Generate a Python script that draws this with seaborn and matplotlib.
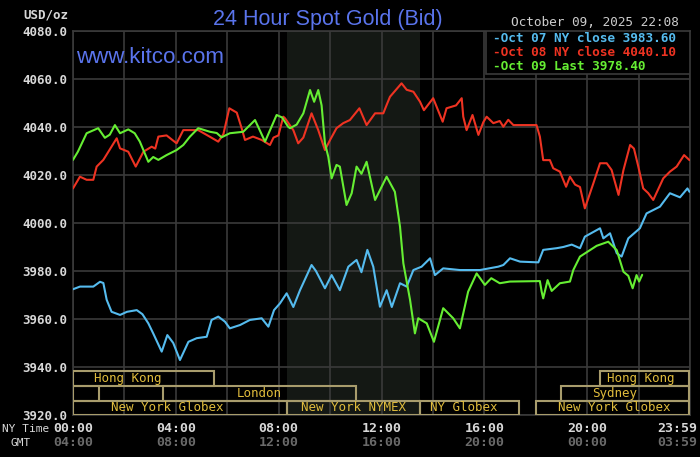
import pandas as pd
import matplotlib.pyplot as plt
import matplotlib.transforms as mtransforms
from matplotlib.patches import Rectangle
import seaborn as sns

# Digitised prices (hour of NY day, USD/oz)
oct07_hours = [0.00, 0.27, 0.79, 1.05, 1.18, 1.31, 1.50, 1.83, 2.10, 2.48, 2.70, 2.93, 3.12, 3.45,
               3.67, 3.90, 4.16, 4.49, 4.81, 5.20, 5.39, 5.65, 5.91, 6.10, 6.50, 6.88, 7.34, 7.60,
               7.82, 8.05, 8.31, 8.57, 8.83, 9.28, 9.45, 9.80, 10.06, 10.38, 10.71, 11.03, 11.22,
               11.45, 11.68, 11.94, 12.20, 12.40, 12.72, 12.98, 13.24, 13.56, 13.89, 14.08, 14.40,
               15.05, 15.83, 16.54, 16.74, 17.00, 17.39, 18.10, 18.29, 18.81, 19.07, 19.40, 19.72,
               19.91, 20.50, 20.63, 20.89, 21.15, 21.34, 21.60, 22.05, 22.31, 22.83, 23.22, 23.61,
               23.90, 23.98]
oct07_price = [3972.4, 3973.5, 3973.5, 3975.5, 3975.0, 3968.0, 3963.0, 3961.7, 3963.0, 3963.7,
               3962.0, 3958.2, 3954.0, 3946.4, 3953.3, 3950.0, 3942.9, 3950.5, 3952.0, 3952.6,
               3959.6, 3961.0, 3958.9, 3956.1, 3957.5, 3959.6, 3960.3, 3956.8, 3963.7, 3966.5,
               3970.7, 3965.0, 3972.0, 3982.5, 3980.0, 3972.8, 3978.3, 3972.0, 3981.8, 3984.6,
               3979.5, 3988.8, 3981.8, 3965.1, 3972.0, 3965.0, 3974.9, 3973.5, 3980.4, 3981.8,
               3985.3, 3978.3, 3981.1, 3980.4, 3980.4, 3981.8, 3982.5, 3985.3, 3983.9, 3983.6,
               3988.8, 3989.5, 3990.0, 3991.0, 3989.5, 3994.3, 3997.8, 3993.6, 3995.7, 3987.4,
               3986.0, 3993.6, 3997.8, 4004.0, 4006.8, 4012.4, 4010.7, 4014.4, 4013.0]

oct08_hours = [0.00, 0.27, 0.53, 0.79, 0.92, 1.18, 1.70, 1.83, 2.15, 2.44, 2.74, 3.06, 3.20, 3.32,
               3.64, 4.03, 4.29, 4.87, 5.20, 5.65, 5.85, 6.08, 6.37, 6.56, 6.69, 7.00, 7.34, 7.66,
               7.80, 7.99, 8.18, 8.25, 8.57, 8.76, 8.96, 9.28, 9.54, 9.80, 10.00, 10.25, 10.51,
               10.77, 11.14, 11.42, 11.75, 12.07, 12.20, 12.33, 12.78, 12.98, 13.24, 13.50, 13.65,
               14.01, 14.38, 14.53, 14.90, 15.12, 15.18, 15.31, 15.54, 15.77, 15.96, 16.09, 16.35,
               16.60, 16.74, 16.93, 17.13, 18.03, 18.16, 18.29, 18.55, 18.68, 18.94, 19.18, 19.33,
               19.53, 19.72, 19.91, 20.24, 20.50, 20.76, 20.95, 21.22, 21.41, 21.67, 21.82, 21.99,
               22.18, 22.37, 22.57, 22.96, 23.22, 23.48, 23.77, 23.98]
oct08_price = [4014.4, 4019.3, 4018.0, 4018.0, 4023.5, 4026.3, 4035.3, 4031.1, 4029.7, 4023.5,
               4029.7, 4031.8, 4031.0, 4036.0, 4036.5, 4033.2, 4038.7, 4038.7, 4036.7, 4033.9,
               4037.0, 4047.8, 4046.0, 4039.5, 4034.6, 4036.0, 4034.6, 4032.5, 4035.6, 4036.5,
               4044.3, 4043.6, 4038.7, 4033.2, 4035.6, 4045.7, 4038.7, 4030.4, 4034.6, 4039.5,
               4041.6, 4042.9, 4047.8, 4040.8, 4045.7, 4045.7, 4049.2, 4052.6, 4058.2, 4055.5,
               4054.7, 4050.5, 4047.0, 4052.0, 4042.2, 4047.8, 4049.0, 4052.0, 4044.3, 4038.7,
               4045.0, 4036.7, 4042.0, 4044.3, 4041.6, 4042.5, 4040.1, 4043.0, 4040.8, 4040.8,
               4036.0, 4026.2, 4026.2, 4022.8, 4021.4, 4015.1, 4019.3, 4016.0, 4015.0, 4006.1,
               4016.5, 4024.9, 4024.9, 4022.1, 4011.7, 4022.0, 4032.5, 4031.0, 4023.5, 4014.4,
               4012.5, 4009.6, 4018.6, 4021.4, 4023.5, 4028.3, 4026.2]

oct09_hours = [0.00, 0.19, 0.53, 0.98, 1.24, 1.43, 1.63, 1.83, 2.15, 2.40, 2.60, 2.93, 3.12, 3.32,
               3.64, 4.03, 4.29, 4.55, 4.87, 5.33, 5.59, 5.78, 6.10, 6.62, 7.08, 7.47, 7.92, 8.13,
               8.37, 8.44, 8.70, 8.96, 9.22, 9.38, 9.54, 9.67, 9.80, 9.93, 10.06, 10.25, 10.38,
               10.64, 10.84, 11.03, 11.22, 11.42, 11.75, 12.20, 12.52, 12.72, 12.85, 13.11, 13.30,
               13.43, 13.76, 14.04, 14.40, 14.79, 15.05, 15.37, 15.70, 16.02, 16.27, 16.60, 16.99,
               18.16, 18.23, 18.29, 18.46, 18.62, 18.94, 19.33, 19.46, 19.72, 20.11, 20.37, 20.82,
               21.15, 21.41, 21.60, 21.77, 21.92, 22.02, 22.14]
oct09_price = [4026.3, 4029.7, 4037.4, 4039.5, 4035.5, 4036.8, 4040.8, 4037.4, 4039.0, 4037.4,
               4033.9, 4025.5, 4027.5, 4026.3, 4028.3, 4030.4, 4032.5, 4036.0, 4039.5, 4038.0,
               4037.5, 4035.7, 4037.4, 4038.0, 4042.9, 4033.9, 4045.0, 4044.0, 4040.1, 4039.5,
               4041.0, 4045.7, 4055.4, 4050.5, 4055.4, 4049.0, 4033.2, 4027.6, 4018.6, 4024.2,
               4023.5, 4007.5, 4012.4, 4023.5, 4020.5, 4025.5, 4009.6, 4019.3, 4013.0, 3998.5,
               3983.2, 3968.0, 3954.0, 3960.3, 3958.2, 3950.5, 3964.5, 3960.3, 3956.1, 3971.4,
               3979.0, 3974.2, 3977.0, 3974.9, 3975.6, 3975.8, 3971.4, 3968.6, 3976.2, 3971.7,
               3974.9, 3975.6, 3980.4, 3986.0, 3988.7, 3990.5, 3992.2, 3988.7, 3979.7, 3978.0,
               3972.8, 3978.3, 3975.6, 3978.4]

series_names = ["Oct 07", "Oct 08", "Oct 09"]
legend_lines = ["-Oct 07 NY close 3983.60", "-Oct 08 NY close 4040.10", "-Oct 09 Last 3978.40"]
series_colors = ["#55bbee", "#ee3322", "#66ee33"]

y_ticks = [3920, 3940, 3960, 3980, 4000, 4020, 4040, 4060, 4080]
ny_labels = ["00:00", "04:00", "08:00", "12:00", "16:00", "20:00", "23:59"]
gmt_labels = ["04:00", "08:00", "12:00", "16:00", "20:00", "00:00", "03:59"]
label_hours = [0, 4, 8, 12, 16, 20, 23.98]

# Trading sessions: name, start, end, row (0 = top), label hour
session_names = ["Hong Kong", "", "London", "New York Globex", "New York NYMEX", "NY Globex",
                 "New York Globex", "Sydney", "Hong Kong"]
session_start = [0.0, 0.0, 3.5, 0.0, 8.33, 13.5, 18.0, 19.0, 20.5]
session_end = [5.5, 1.0, 11.0, 8.33, 13.5, 17.33, 23.98, 23.98, 23.98]
session_row = [0, 1, 1, 2, 2, 2, 2, 1, 0]
session_label_at = [2.14, 0.5, 7.25, 3.66, 10.9, 15.2, 21.05, 21.05, 22.1]
nymex_span = (8.33, 13.5)

frames = []
for name, hrs, prices in zip(series_names, [oct07_hours, oct08_hours, oct09_hours],
                             [oct07_price, oct08_price, oct09_price]):
    frames.append(pd.DataFrame({"hour": hrs, "price": prices, "day": name}))
df = pd.concat(frames, ignore_index=True)

sns.set_style("dark", {"axes.facecolor": "#000000", "figure.facecolor": "#000000"})
mono = "DejaVu Sans Mono"
plt.rcParams["font.family"] = ["DejaVu Sans"]

fig = plt.figure(figsize=(7.0, 4.57), dpi=100)
ax = fig.add_axes([73 / 700, 42 / 457, 617 / 700, 384 / 457])
ax.set_facecolor("#000000")

ax.axvspan(*nymex_span, color="#141814", zorder=0.1, lw=0)

sns.lineplot(data=df, x="hour", y="price", hue="day", palette=series_colors,
             estimator=None, sort=False, linewidth=1.5, legend=False, ax=ax, zorder=3)

ax.set_xlim(0, 24)
ax.set_ylim(3920, 4080)
ax.set_xticks(range(0, 25, 2))
ax.set_xticklabels([])
ax.set_yticks(y_ticks)
ax.set_yticklabels([f"{v:.1f}" for v in y_ticks], fontfamily=mono, fontweight="bold",
                   fontsize=9, color="#d8d8d8")
ax.tick_params(length=0, pad=4)
ax.set_xlabel("")
ax.set_ylabel("")
ax.grid(True, color="#3a3a3a", linewidth=1.2)
ax.set_axisbelow(True)
for s in ax.spines.values():
    s.set_color("#3a3a3a")
    s.set_linewidth(1.2)
    s.set_visible(True)

# session boxes
row_h = 6.1
row_top = 3938.2
gold = "#e0bc3c"
for name, a, b, r, lx in zip(session_names, session_start, session_end, session_row,
                             session_label_at):
    y0 = row_top - (r + 1) * row_h
    ax.add_patch(Rectangle((a, y0), b - a, row_h, fill=False, edgecolor="#a89c6c",
                           linewidth=1.5, zorder=4))
    if name:
        ax.text(lx, y0 + row_h / 2, name, ha="center", va="center", fontfamily=mono,
                fontsize=9, color=gold, zorder=5)

# x labels below the axis
xt = mtransforms.blended_transform_factory(ax.transData, fig.transFigure)
for h, ny, gmt in zip(label_hours, ny_labels, gmt_labels):
    ha = "right" if h > 23 else "center"
    hx = 24.28 if h > 23 else h
    ax.text(hx, 1 - 428 / 457, ny, transform=xt, ha=ha, va="center", fontfamily=mono,
            fontweight="bold", fontsize=9.5, color="#d8d8d8")
    ax.text(hx, 1 - 443 / 457, gmt, transform=xt, ha=ha, va="center", fontfamily=mono,
            fontweight="bold", fontsize=9.5, color="#6a6a6a")
fig.text(2 / 700, 1 - 429 / 457, "NY Time", ha="left", va="center", fontfamily=mono,
         fontsize=8, color="#d8d8d8")
fig.text(21 / 700, 1 - 443 / 457, "GMT", ha="center", va="center", fontfamily=mono,
         fontsize=8, color="#d8d8d8")
fig.text(68 / 700, 1 - 15 / 457, "USD/oz", ha="right", va="center", fontfamily=mono,
         fontweight="bold", fontsize=9, color="#d8d8d8")

# legend box
ax.add_patch(Rectangle(((486 - 73) / 617, (415 - 74) / 384), (690 - 486) / 617, 43 / 384,
                       transform=ax.transAxes, facecolor="#000000", edgecolor="#3a3a3a",
                       linewidth=1.2, zorder=6))
for i, (txt, c) in enumerate(zip(legend_lines, series_colors)):
    ax.text((493 - 73) / 617, (415 - (38 + 14 * i)) / 384, txt, transform=ax.transAxes,
            ha="left", va="center", fontfamily=mono, fontweight="bold", fontsize=9.2,
            color=c, zorder=7)

fig.text(328 / 700, 1 - 24.5 / 457, "24 Hour Spot Gold (Bid)", ha="center", va="baseline",
         fontfamily="Liberation Sans", fontsize=15.5, color="#5a74ec")
fig.text(76 / 700, 1 - 63 / 457, "www.kitco.com", ha="left", va="baseline",
         fontfamily="Liberation Sans", fontsize=16.1, color="#5a74ec")
fig.text(679 / 700, 1 - 22.5 / 457, "October 09, 2025 22:08", ha="right", va="center",
         fontfamily=mono, fontsize=9.2, color="#cccccc")

plt.savefig("out.png", dpi=100, facecolor="#000000")
